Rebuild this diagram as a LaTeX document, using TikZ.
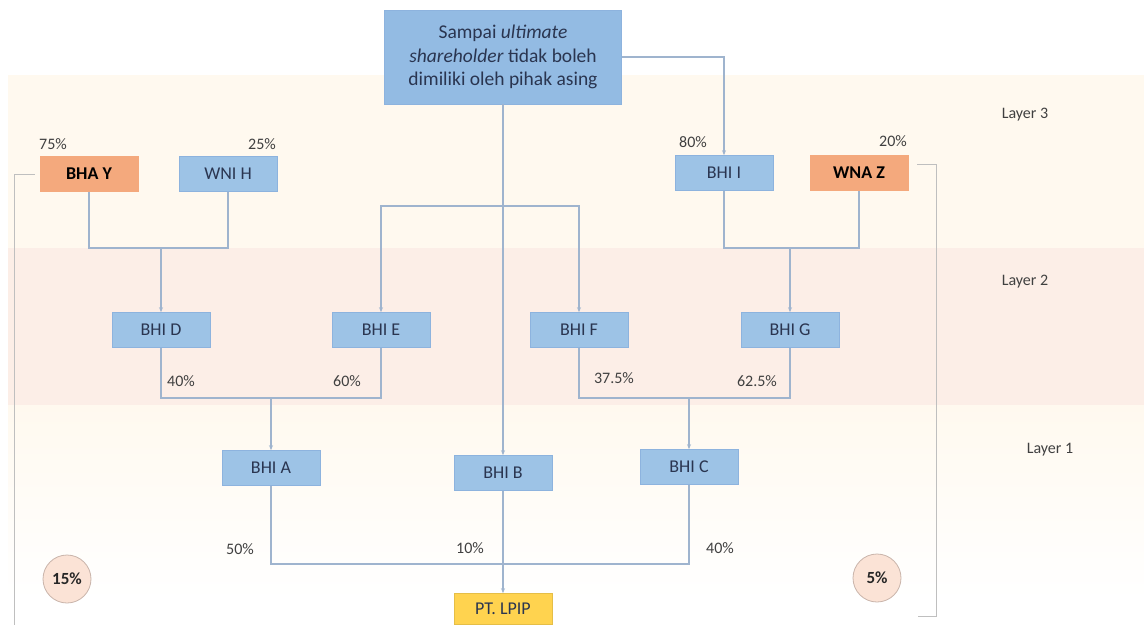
\documentclass[tikz,border=0pt]{standalone}
\usepackage{fontspec}
\setmainfont{Carlito}
\usetikzlibrary{arrows.meta,shadings}
\definecolor{boxblue}{HTML}{9DC3E6}
\definecolor{topblue}{HTML}{93BBE3}
\definecolor{boxblueb}{HTML}{8DB3DE}
\definecolor{boxorange}{HTML}{F4A97D}
\definecolor{boxyellow}{HTML}{FFD34F}
\definecolor{linec}{HTML}{9FB4CE}
\definecolor{txt}{HTML}{2A3550}
\definecolor{bandA}{HTML}{FFF9EF}
\definecolor{bandB}{HTML}{FCEEE7}
\definecolor{circf}{HTML}{FBE3D6}
\definecolor{circb}{HTML}{C9B4AA}
\tikzset{
  bx/.style={rectangle, fill=boxblue, draw=boxblueb, line width=0.6pt, minimum width=98pt, minimum height=35pt, inner sep=2pt, text=txt, font=\fontsize{18}{20}\selectfont},
  ox/.style={bx, fill=boxorange, draw=boxorange, text=black, font=\fontsize{18}{20}\selectfont\bfseries},
  yx/.style={bx, fill=boxyellow, draw=boxyellow!90!black, text=txt, minimum height=31pt},
  pct/.style={text=black!75, font=\fontsize{16}{18}\selectfont, inner sep=1pt},
  lay/.style={text=black!75, font=\fontsize{16}{18}\selectfont, inner sep=1pt},
  conn/.style={draw=linec, line width=1.4pt},
  arr/.style={conn, -{Stealth[length=5pt,width=4pt]}},
  circ/.style={circle, fill=circf, draw=circb, line width=0.8pt, minimum size=48pt, inner sep=0pt, font=\fontsize{17}{19}\selectfont\bfseries, text=black!85},
}
\begin{document}
\begin{tikzpicture}[x=1pt,y=-1pt]
\useasboundingbox (0,0) rectangle (1144,625);
\fill[white] (0,0) rectangle (1144,625);
% bands
\fill[bandA] (8,75) rectangle (1144,248);
\fill[bandB] (8,248) rectangle (1144,405);
\shade[top color=bandA, bottom color=white] (8,405) rectangle (1144,600);
% layer labels
\node[lay] (l3) at (1025,115) {Layer 3};
\node[lay] (l2) at (1025,282) {Layer 2};
\node[lay] (l1) at (1050,450) {Layer 1};
% top box
\node[bx, minimum width=237pt, minimum height=94pt, fill=topblue, align=center, font=\fontsize{19.5}{23.5}\selectfont] (top) at (503,57) {Sampai \textit{ultimate}\\\textit{shareholder} tidak boleh\\dimiliki oleh pihak asing};
% layer 3 nodes
\node[ox] (bhay) at (89,174) {BHA Y};
\node[bx] (wnih) at (228,174) {WNI H};
\node[bx] (bhii) at (724,173) {BHI I};
\node[ox] (wnaz) at (859,173) {WNA Z};
\node[pct] (p75) at (53,144) {75\%};
\node[pct] (p25) at (262,144) {25\%};
\node[pct] (p80) at (693,142) {80\%};
\node[pct] (p20) at (893,141) {20\%};
% layer 2 nodes
\node[bx] (bhid) at (161,330) {BHI D};
\node[bx] (bhie) at (381,330) {BHI E};
\node[bx] (bhif) at (579,330) {BHI F};
\node[bx] (bhig) at (790,330) {BHI G};
\node[pct] (p40a) at (181,381) {40\%};
\node[pct] (p60) at (347,381) {60\%};
\node[pct] (p375) at (614,378) {37.5\%};
\node[pct] (p625) at (757,381) {62.5\%};
% layer 1 nodes
\node[bx] (bhia) at (271,468) {BHI A};
\node[bx] (bhib) at (503,473) {BHI B};
\node[bx] (bhic) at (689,467) {BHI C};
\node[pct] (p50) at (240,549) {50\%};
\node[pct] (p10) at (470,548) {10\%};
\node[pct] (p40b) at (720,548) {40\%};
% target
\node[yx] (lpip) at (503,609) {PT. LPIP};
% circles
\node[circ] (c15) at (67,579) {15\%};
\node[circ] (c5) at (877,578) {5\%};
% join coordinates
\coordinate (jDH) at (161,248);
\coordinate (jG) at (790,248);
\coordinate (jEF) at (503,206);
\coordinate (jA) at (271,398);
\coordinate (jC) at (689,398);
\coordinate (jL) at (503,564);
\coordinate (lbB) at (14,625);
\coordinate (rbC) at (936,616);
\coordinate (rbE) at (918,616);
% connectors
\draw[conn] (bhay.south) |- (jDH) -| (wnih.south);
\draw[arr] (jDH) -- (bhid.north);
\draw[conn] (bhii.south) |- (jG) -| (wnaz.south);
\draw[arr] (jG) -- (bhig.north);
\draw[arr] (top.east) -| (bhii.north);
\draw[arr] (jEF) -| (bhie.north);
\draw[arr] (jEF) -| (bhif.north);
\draw[arr] (top.south) -- (bhib.north);
\draw[conn] (bhid.south) |- (jA) -| (bhie.south);
\draw[arr] (jA) -- (bhia.north);
\draw[conn] (bhif.south) |- (jC) -| (bhig.south);
\draw[arr] (jC) -- (bhic.north);
\draw[conn] (bhia.south) |- (jL) -| (bhic.south);
\draw[arr] (bhib.south) -- (lpip.north);
% brackets
\draw[draw=black!25, line width=1pt] ([xshift=-5pt]bhay.west) -| (lbB);
\draw[draw=black!25, line width=1pt] ([xshift=9pt,yshift=9pt]wnaz.east) -| (rbC) -- (rbE);
\end{tikzpicture}
\end{document}
